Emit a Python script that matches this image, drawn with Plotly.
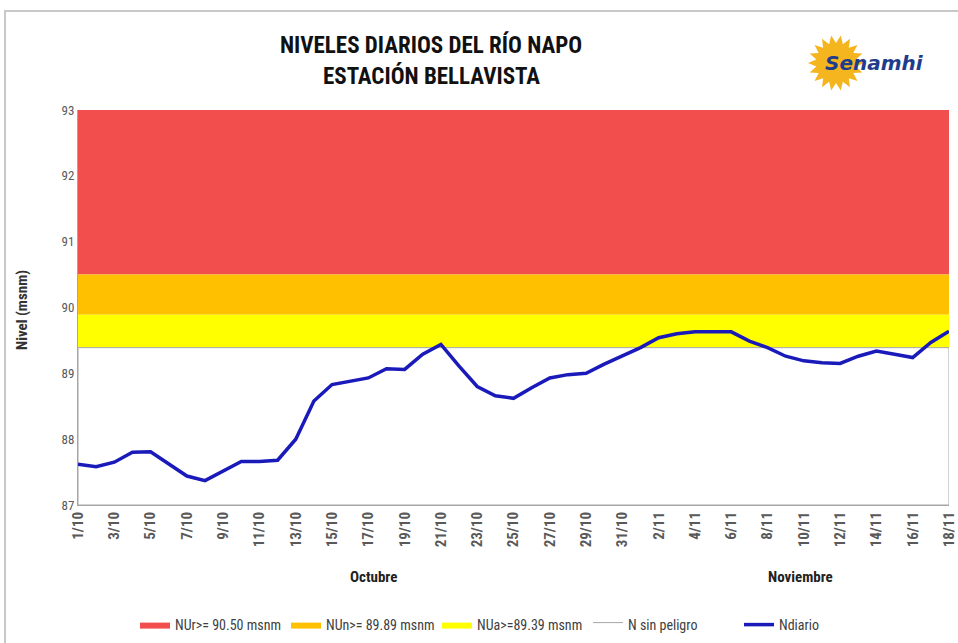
import math
import plotly.graph_objects as go

# ---------------- data ----------------
dates = [f"{d}/10" for d in range(1, 32)] + [f"{d}/11" for d in range(1, 19)]
nivel = [87.62, 87.58, 87.65, 87.80, 87.81, 87.62, 87.44, 87.37, 87.52, 87.66,
         87.66, 87.68, 88.00, 88.58, 88.83, 88.88, 88.93, 89.07, 89.06, 89.29,
         89.44, 89.11, 88.80, 88.66, 88.62, 88.78, 88.93, 88.98, 89.00, 89.14,
         89.27, 89.39, 89.54, 89.60, 89.63, 89.63, 89.63, 89.49, 89.39, 89.26,
         89.19, 89.16, 89.15, 89.26, 89.34, 89.29, 89.24, 89.47, 89.64]
band_names = ["NUr>= 90.50 msnm", "NUn>= 89.89 msnm", "NUa>=89.39 msnm", "N sin peligro"]
band_low = [90.50, 89.89, 89.39, 87.0]
band_high = [93.0, 90.50, 89.89, 89.39]
band_colors = ["#F24E4E", "#FFC000", "#FFFF00", "#FFFFFF"]
tick_labels = dates[::2]
y_min, y_max = 87, 93

W, H = 958, 643
L, R, T, B = 78, 9, 110, 138
FONT = "Liberation Sans Narrow, Roboto Condensed, DejaVu Sans Condensed, Arial Narrow, sans-serif"

def px(x):
    return (x - L) / (W - L - R)

def py(y):
    return (H - B - y) / (H - T - B)

fig = go.Figure()

first, last = dates[0], dates[-1]
for name, lo, hi, col in zip(band_names, band_low, band_high, band_colors):
    outline = col == "#FFFFFF"
    fig.add_trace(go.Scatter(
        x=[first, last, last, first, first], y=[lo, lo, hi, hi, lo],
        mode="lines", fill="toself", fillcolor=col,
        line=dict(color="#A6A6A6" if outline else col, width=1 if outline else 0),
        name=name, hoverinfo="skip"))

fig.add_trace(go.Scatter(x=dates, y=nivel, mode="lines", name="Ndiario",
                         line=dict(color="#1A1ABB", width=3.5)))

# ---------------- logo (decoration) ----------------
cx, cy, r1, r2 = 836, 63, 28, 20
pts = []
n = 18
for i in range(2 * n):
    a = math.pi * i / n
    r = r1 if i % 2 == 0 else r2
    pts.append((px(cx + r * math.cos(a)), py(cy + r * math.sin(a))))
path = "M " + " L ".join(f"{x:.4f},{y:.4f}" for x, y in pts) + " Z"
shapes = [
    dict(type="path", xref="paper", yref="paper", path=path,
         fillcolor="#F5B51E", line=dict(width=0)),
    dict(type="rect", xref="paper", yref="paper",
         x0=px(5), x1=px(975), y0=py(11), y1=py(660),
         line=dict(color="#C8C8C8", width=2), fillcolor="rgba(0,0,0,0)", layer="below"),
]

def ann(text, x, y, size, color, family=FONT, angle=0):
    return dict(text=text, x=px(x), y=py(y), xref="paper", yref="paper",
                xanchor="center", yanchor="middle", textangle=angle,
                showarrow=False, font=dict(size=size, color=color, family=family))

annotations = [
    ann("<b>NIVELES DIARIOS DEL RÍO NAPO</b>", 431, 45, 23, "#111111"),
    ann("<b>ESTACIÓN BELLAVISTA</b>", 431, 76, 23, "#111111"),
    ann("<b><i>Senamhi</i></b>", 874, 63, 20, "#1F3C8C", "DejaVu Sans"),
    ann("<b>Nivel (msnm)</b>", 22, 310, 15, "#333333", angle=-90),
    ann("<b>Octubre</b>", 373, 577, 15, "#222222"),
    ann("<b>Noviembre</b>", 800, 577, 15, "#222222"),
]

fig.update_layout(
    width=W, height=H, margin=dict(l=L, r=R, t=T, b=B, autoexpand=False),
    paper_bgcolor="white", plot_bgcolor="white",
    font=dict(family=FONT, color="#595959"),
    showlegend=True,
    legend=dict(orientation="h", x=px(135), xanchor="left", y=py(625), yanchor="middle",
                font=dict(size=14, color="#404040", family=FONT), traceorder="normal",
                itemwidth=30, entrywidth=106, entrywidthmode="pixels"),
    shapes=shapes, annotations=annotations,
)
fig.update_xaxes(type="category", categoryorder="array", categoryarray=dates,
                 range=[0, len(dates) - 1], tickmode="array", tickvals=tick_labels,
                 ticktext=[f"<b>{t}</b>" for t in tick_labels], tickangle=-90,
                 tickfont=dict(size=15, color="#595959", family=FONT),
                 showgrid=False, showline=True, linecolor="#A6A6A6", linewidth=1,
                 ticks="", zeroline=False)
fig.update_yaxes(range=[y_min, y_max], dtick=1, showgrid=False, showline=True,
                 linecolor="#A6A6A6", linewidth=1, ticks="",
                 tickfont=dict(size=13, color="#595959", family=FONT), zeroline=False)

fig.write_html("out.html", config={"displayModeBar": False},
               post_script="document.body.style.margin='0';")
